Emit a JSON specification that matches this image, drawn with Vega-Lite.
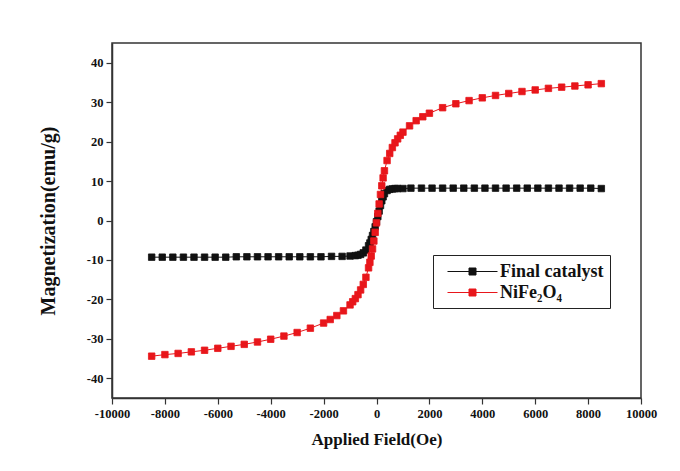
{
  "$schema": "https://vega.github.io/schema/vega-lite/v6.json",
  "width": 529,
  "height": 355,
  "autosize": {"type": "none"},
  "padding": {"left": 112, "top": 43, "right": 39, "bottom": 73},
  "background": "white",
  "config": {
    "view": {"stroke": "#333333", "strokeWidth": 1.5},
    "font": "Liberation Serif",
    "axis": {
      "grid": false,
      "domainColor": "#333333",
      "domainWidth": 1.5,
      "tickColor": "#333333",
      "tickWidth": 1.2,
      "labelFont": "Liberation Serif",
      "labelFontWeight": "bold",
      "labelFontSize": 12.5,
      "labelColor": "#111111",
      "titleFont": "Liberation Serif",
      "titleFontWeight": "bold",
      "titleColor": "#111111"
    },
    "legend": {
      "orient": "none",
      "legendX": 321,
      "legendY": 212,
      "strokeColor": "#222222",
      "strokeWidth": 1,
      "padding": 6,
      "symbolType": "M-0.2,0H4.8M1.95,-0.35H2.65V0.35H1.95Z",
      "symbolSize": 400,
      "symbolStrokeWidth": 1,
      "labelFont": "Liberation Serif",
      "labelFontWeight": "bold",
      "labelFontSize": 18,
      "labelColor": "#111111",
      "labelOffset": 40,
      "rowPadding": 1
    }
  },
  "datasets": {
    "curves": [
      {"series": "Final catalyst", "field": -8500, "m": -9.3},
      {"series": "Final catalyst", "field": -8100, "m": -9.3},
      {"series": "Final catalyst", "field": -7700, "m": -9.3},
      {"series": "Final catalyst", "field": -7300, "m": -9.3},
      {"series": "Final catalyst", "field": -6900, "m": -9.3},
      {"series": "Final catalyst", "field": -6500, "m": -9.3},
      {"series": "Final catalyst", "field": -6100, "m": -9.3},
      {"series": "Final catalyst", "field": -5700, "m": -9.3},
      {"series": "Final catalyst", "field": -5300, "m": -9.2},
      {"series": "Final catalyst", "field": -4900, "m": -9.2},
      {"series": "Final catalyst", "field": -4500, "m": -9.2},
      {"series": "Final catalyst", "field": -4100, "m": -9.2},
      {"series": "Final catalyst", "field": -3700, "m": -9.2},
      {"series": "Final catalyst", "field": -3300, "m": -9.2},
      {"series": "Final catalyst", "field": -2900, "m": -9.2},
      {"series": "Final catalyst", "field": -2500, "m": -9.2},
      {"series": "Final catalyst", "field": -2100, "m": -9.2},
      {"series": "Final catalyst", "field": -1700, "m": -9.1},
      {"series": "Final catalyst", "field": -1300, "m": -9.1},
      {"series": "Final catalyst", "field": -1000, "m": -9.0},
      {"series": "Final catalyst", "field": -800, "m": -8.9},
      {"series": "Final catalyst", "field": -700, "m": -8.8},
      {"series": "Final catalyst", "field": -600, "m": -8.6},
      {"series": "Final catalyst", "field": -500, "m": -8.2},
      {"series": "Final catalyst", "field": -400, "m": -7.5},
      {"series": "Final catalyst", "field": -300, "m": -6.4},
      {"series": "Final catalyst", "field": -250, "m": -5.7},
      {"series": "Final catalyst", "field": -200, "m": -4.8},
      {"series": "Final catalyst", "field": -150, "m": -3.8},
      {"series": "Final catalyst", "field": -100, "m": -2.8},
      {"series": "Final catalyst", "field": -50, "m": -1.6},
      {"series": "Final catalyst", "field": 0, "m": -0.3},
      {"series": "Final catalyst", "field": 50, "m": 1.0},
      {"series": "Final catalyst", "field": 100, "m": 2.4},
      {"series": "Final catalyst", "field": 150, "m": 3.8},
      {"series": "Final catalyst", "field": 200, "m": 5.0},
      {"series": "Final catalyst", "field": 250, "m": 6.0},
      {"series": "Final catalyst", "field": 300, "m": 6.8},
      {"series": "Final catalyst", "field": 400, "m": 7.6},
      {"series": "Final catalyst", "field": 500, "m": 7.9},
      {"series": "Final catalyst", "field": 600, "m": 8.0},
      {"series": "Final catalyst", "field": 700, "m": 8.1},
      {"series": "Final catalyst", "field": 800, "m": 8.1},
      {"series": "Final catalyst", "field": 1000, "m": 8.1},
      {"series": "Final catalyst", "field": 1300, "m": 8.2},
      {"series": "Final catalyst", "field": 1700, "m": 8.2},
      {"series": "Final catalyst", "field": 2100, "m": 8.2},
      {"series": "Final catalyst", "field": 2500, "m": 8.2},
      {"series": "Final catalyst", "field": 2900, "m": 8.2},
      {"series": "Final catalyst", "field": 3300, "m": 8.2},
      {"series": "Final catalyst", "field": 3700, "m": 8.2},
      {"series": "Final catalyst", "field": 4100, "m": 8.2},
      {"series": "Final catalyst", "field": 4500, "m": 8.2},
      {"series": "Final catalyst", "field": 4900, "m": 8.2},
      {"series": "Final catalyst", "field": 5300, "m": 8.2},
      {"series": "Final catalyst", "field": 5700, "m": 8.2},
      {"series": "Final catalyst", "field": 6100, "m": 8.2},
      {"series": "Final catalyst", "field": 6500, "m": 8.2},
      {"series": "Final catalyst", "field": 6900, "m": 8.2},
      {"series": "Final catalyst", "field": 7300, "m": 8.2},
      {"series": "Final catalyst", "field": 7700, "m": 8.2},
      {"series": "Final catalyst", "field": 8100, "m": 8.2},
      {"series": "Final catalyst", "field": 8500, "m": 8.1},
      {"series": "NiFe₂O₄", "field": -8500, "m": -34.4},
      {"series": "NiFe₂O₄", "field": -8000, "m": -34.0},
      {"series": "NiFe₂O₄", "field": -7500, "m": -33.7},
      {"series": "NiFe₂O₄", "field": -7000, "m": -33.3},
      {"series": "NiFe₂O₄", "field": -6500, "m": -32.9},
      {"series": "NiFe₂O₄", "field": -6000, "m": -32.4},
      {"series": "NiFe₂O₄", "field": -5500, "m": -31.9},
      {"series": "NiFe₂O₄", "field": -5000, "m": -31.4},
      {"series": "NiFe₂O₄", "field": -4500, "m": -30.8},
      {"series": "NiFe₂O₄", "field": -4000, "m": -30.1},
      {"series": "NiFe₂O₄", "field": -3500, "m": -29.3},
      {"series": "NiFe₂O₄", "field": -3000, "m": -28.4},
      {"series": "NiFe₂O₄", "field": -2500, "m": -27.3},
      {"series": "NiFe₂O₄", "field": -2000, "m": -26.0},
      {"series": "NiFe₂O₄", "field": -1750, "m": -25.1},
      {"series": "NiFe₂O₄", "field": -1500, "m": -24.1},
      {"series": "NiFe₂O₄", "field": -1250, "m": -22.9},
      {"series": "NiFe₂O₄", "field": -1000, "m": -21.4},
      {"series": "NiFe₂O₄", "field": -900, "m": -20.6},
      {"series": "NiFe₂O₄", "field": -800, "m": -19.8},
      {"series": "NiFe₂O₄", "field": -700, "m": -18.8},
      {"series": "NiFe₂O₄", "field": -600, "m": -17.6},
      {"series": "NiFe₂O₄", "field": -500, "m": -16.2},
      {"series": "NiFe₂O₄", "field": -400, "m": -14.4},
      {"series": "NiFe₂O₄", "field": -300, "m": -12.0},
      {"series": "NiFe₂O₄", "field": -250, "m": -10.6},
      {"series": "NiFe₂O₄", "field": -200, "m": -9.0},
      {"series": "NiFe₂O₄", "field": -150, "m": -7.2},
      {"series": "NiFe₂O₄", "field": -100, "m": -5.2},
      {"series": "NiFe₂O₄", "field": -50, "m": -3.0},
      {"series": "NiFe₂O₄", "field": 0, "m": -0.6},
      {"series": "NiFe₂O₄", "field": 50, "m": 1.8},
      {"series": "NiFe₂O₄", "field": 100, "m": 4.2},
      {"series": "NiFe₂O₄", "field": 150, "m": 6.6},
      {"series": "NiFe₂O₄", "field": 200, "m": 8.8},
      {"series": "NiFe₂O₄", "field": 250, "m": 10.8},
      {"series": "NiFe₂O₄", "field": 300, "m": 12.6},
      {"series": "NiFe₂O₄", "field": 400, "m": 15.2},
      {"series": "NiFe₂O₄", "field": 500, "m": 17.0},
      {"series": "NiFe₂O₄", "field": 600, "m": 18.5},
      {"series": "NiFe₂O₄", "field": 700, "m": 19.7},
      {"series": "NiFe₂O₄", "field": 800, "m": 20.7},
      {"series": "NiFe₂O₄", "field": 900, "m": 21.6},
      {"series": "NiFe₂O₄", "field": 1000, "m": 22.4},
      {"series": "NiFe₂O₄", "field": 1250, "m": 24.0},
      {"series": "NiFe₂O₄", "field": 1500, "m": 25.3},
      {"series": "NiFe₂O₄", "field": 1750, "m": 26.3},
      {"series": "NiFe₂O₄", "field": 2000, "m": 27.2},
      {"series": "NiFe₂O₄", "field": 2500, "m": 28.6},
      {"series": "NiFe₂O₄", "field": 3000, "m": 29.6},
      {"series": "NiFe₂O₄", "field": 3500, "m": 30.4},
      {"series": "NiFe₂O₄", "field": 4000, "m": 31.1},
      {"series": "NiFe₂O₄", "field": 4500, "m": 31.7},
      {"series": "NiFe₂O₄", "field": 5000, "m": 32.2},
      {"series": "NiFe₂O₄", "field": 5500, "m": 32.7},
      {"series": "NiFe₂O₄", "field": 6000, "m": 33.1},
      {"series": "NiFe₂O₄", "field": 6500, "m": 33.5},
      {"series": "NiFe₂O₄", "field": 7000, "m": 33.8},
      {"series": "NiFe₂O₄", "field": 7500, "m": 34.1},
      {"series": "NiFe₂O₄", "field": 8000, "m": 34.4},
      {"series": "NiFe₂O₄", "field": 8500, "m": 34.7}
    ]
  },
  "data": {"name": "curves"},
  "layer": [
    {
      "transform": [{"filter": "datum.series === 'Final catalyst'"}],
      "mark": {"type": "line", "color": "#111111", "strokeWidth": 1},
      "encoding": {
        "x": {"field": "field", "type": "quantitative"},
        "y": {"field": "m", "type": "quantitative"}
      }
    },
    {
      "transform": [{"filter": "datum.series !== 'Final catalyst'"}],
      "mark": {"type": "line", "color": "#e8161b", "strokeWidth": 1},
      "encoding": {
        "x": {"field": "field", "type": "quantitative"},
        "y": {"field": "m", "type": "quantitative"}
      }
    },
    {
      "mark": {"type": "point", "shape": "square", "filled": true, "size": 42, "opacity": 1, "strokeWidth": 0.8},
      "encoding": {
        "x": {
          "field": "field",
          "type": "quantitative",
          "scale": {"domain": [-10000, 10000], "nice": false, "zero": false},
          "axis": {
            "title": "Applied Field(Oe)",
            "titleFontSize": 17,
            "titlePadding": 12,
            "values": [-10000, -9000, -8000, -7000, -6000, -5000, -4000, -3000, -2000, -1000, 0, 1000, 2000, 3000, 4000, 5000, 6000, 7000, 8000, 9000, 10000],
            "labelExpr": "datum.value % 2000 === 0 ? '' + datum.value : ''",
            "tickSize": {"condition": {"test": "datum.value % 2000 === 0", "value": 6}, "value": 3},
            "labelPadding": 3,
            "labelFlush": false,
            "labelOverlap": false
          }
        },
        "y": {
          "field": "m",
          "type": "quantitative",
          "scale": {"domain": [-45, 45], "nice": false, "zero": false},
          "axis": {
            "title": "Magnetization(emu/g)",
            "titleFontSize": 20,
            "titlePadding": 28,
            "values": [-40, -35, -30, -25, -20, -15, -10, -5, 0, 5, 10, 15, 20, 25, 30, 35, 40],
            "labelExpr": "datum.value % 10 === 0 ? '' + datum.value : ''",
            "tickSize": {"condition": {"test": "datum.value % 10 === 0", "value": 6}, "value": 3},
            "labelPadding": 3,
            "labelOverlap": false
          }
        },
        "fill": {
          "field": "series",
          "type": "nominal",
          "scale": {"domain": ["Final catalyst", "NiFe₂O₄"], "range": ["#111111", "#e8161b"]},
          "legend": {"title": null}
        },
        "stroke": {
          "field": "series",
          "type": "nominal",
          "scale": {"domain": ["Final catalyst", "NiFe₂O₄"], "range": ["#111111", "#e8161b"]},
          "legend": {"title": null}
        }
      }
    }
  ]
}
